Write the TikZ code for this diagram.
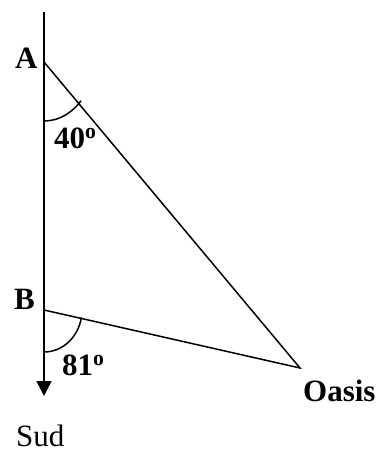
\documentclass[tikz,border=0pt]{standalone}
\usepackage{fontspec}
\setmainfont{Liberation Serif}
\usetikzlibrary{arrows.meta}
\begin{document}
\begin{tikzpicture}[x=1pt,y=-1pt,
  lbl/.style={inner sep=0pt, anchor=base west, font=\fontsize{31}{37}\selectfont\bfseries},
  plainlbl/.style={inner sep=0pt, anchor=base west, font=\fontsize{31}{37}\selectfont},
  ln/.style={line width=1.5pt}]
\useasboundingbox (0,0) rectangle (380,452);
\coordinate (top) at (44,12);
\coordinate (A) at (44,62);
\coordinate (B) at (44,310);
\coordinate (O) at (300,368);
\coordinate (S) at (44,396);
\draw[ln,-{Triangle[width=15pt,length=15pt]}] (top) -- (S);
\draw[ln] (A) -- (O) -- (B);
\draw[ln] ([yshift=-59pt]A) arc[start angle=-90,end angle=-41,x radius=49pt,y radius=59pt];
\draw[ln] ([yshift=-42pt]B) arc[start angle=-90,end angle=-10,x radius=38pt,y radius=42pt];
\node[lbl] (la) at (15,68) {A};
\node[lbl] (lb) at (14,309) {B};
\node[lbl] (l40) at (54,148) {40\textsuperscript{o}};
\node[lbl] (l81) at (62,375) {81\textsuperscript{o}};
\node[lbl] (lo) at (303,401) {Oasis};
\node[plainlbl] (ls) at (16,446) {Sud};
\end{tikzpicture}
\end{document}
